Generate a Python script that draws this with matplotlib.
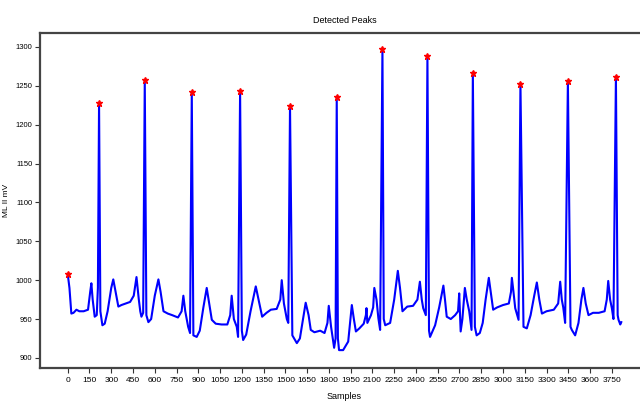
import matplotlib
matplotlib.use("Agg")
import matplotlib.pyplot as plt

plt.rcParams['font.family'] = ['DejaVu Sans Condensed', 'Liberation Sans Narrow', 'Liberation Sans', 'DejaVu Sans']

# --- ECG trace (MLII), vertices ---
samples = [
    0, 12, 25, 40, 60, 80, 110, 140, 155, 163, 172, 186, 200, 208, 216, 225, 239, 255,
    275, 300, 314, 330, 349, 370, 400, 430, 455, 474, 490, 500, 508, 520, 531, 542,
    556, 575, 600, 625, 640, 660, 690, 720, 760, 785, 797, 810, 830, 843, 855, 866,
    889, 910, 935, 958, 975, 993, 1020, 1060, 1100, 1120, 1130, 1145, 1165, 1174, 1188,
    1200, 1209, 1230, 1260, 1296, 1315, 1340, 1370, 1400, 1440, 1465, 1475, 1490, 1510,
    1520, 1532, 1548, 1579, 1600, 1640, 1660, 1675, 1700, 1740, 1770, 1790, 1799, 1815,
    1836, 1846, 1854, 1862, 1870, 1898, 1933, 1958, 1972, 1986, 2010, 2040, 2055, 2059,
    2065, 2090, 2105, 2113, 2128, 2141, 2153, 2169, 2178, 2188, 2222, 2250, 2275, 2290,
    2307, 2340, 2380, 2410, 2427, 2440, 2450, 2468, 2479, 2490, 2497, 2532, 2560, 2589,
    2600, 2612, 2640, 2670, 2690, 2698, 2703, 2708, 2720, 2737, 2750, 2767, 2783, 2792,
    2806, 2818, 2840, 2860, 2880, 2902, 2915, 2932, 2960, 3000, 3040, 3055, 3061, 3072,
    3084, 3107, 3120, 3141, 3164, 3190, 3215, 3233, 3250, 3268, 3300, 3350, 3380, 3394,
    3405, 3415, 3428, 3447, 3465, 3474, 3497, 3520, 3540, 3554, 3570, 3589, 3620, 3660,
    3700, 3715, 3725, 3738, 3750, 3761, 3778, 3790, 3796, 3808, 3815,
]
mv = [
    1008, 990, 957, 958, 962, 960, 960, 962, 985, 996, 975, 953, 955, 990, 1228, 960, 942, 944,
    960, 990, 1001, 985, 966, 968, 970, 972, 980, 1004, 975, 960, 953, 958, 1257, 955,
    946, 950, 980, 1001, 985, 960, 957, 955, 952, 960, 980, 960, 940, 932, 1242, 929,
    927, 935, 965, 990, 970, 949, 944, 943, 943, 955, 980, 950, 940, 927, 1243,
    935, 923, 930, 960, 992, 975, 953, 958, 962, 963, 975, 1000, 970, 950,
    945, 1224, 929, 919, 925, 971, 955, 936, 933, 935, 932, 945, 967, 940,
    913, 925, 1236, 925, 910, 910, 921, 968, 950, 934, 938, 944, 955, 964,
    945, 955, 965, 990, 975, 951, 936, 1298, 950, 942, 945, 975, 1012, 990,
    960, 966, 967, 975, 998, 975, 964, 955, 1288, 935, 927, 942, 965, 993,
    975, 953, 950, 955, 960, 983, 960, 934, 950, 990, 975, 960, 936, 1267,
    940, 929, 932, 945, 975, 1003, 985, 962, 965, 968, 970, 985, 1003, 985,
    964, 949, 1253, 940, 938, 955, 980, 997, 975, 957, 960, 962, 970, 998,
    975, 965, 945, 1256, 940, 936, 929, 945, 975, 990, 970, 955, 958, 958,
    960, 975, 999, 975, 964, 950, 1262, 955, 949, 943, 946,
]

# detected R peaks
peak_idx = [0, 216, 531, 855, 1188, 1532, 1854, 2169, 2479, 2792, 3120, 3447, 3778]
peak_mv = [1008, 1228, 1257, 1242, 1243, 1224, 1236, 1298, 1288, 1267, 1253, 1256, 1262]

xticks = list(range(0, 3751, 150))
yticks = [900, 950, 1000, 1050, 1100, 1150, 1200, 1250, 1300]

fig = plt.figure(figsize=(6.4, 4.03), dpi=100)
ax = fig.add_axes([40 / 640, 35 / 403, 609 / 640, 335 / 403])

ax.plot(samples, mv, color="blue", linewidth=1.5)
ax.plot(peak_idx, peak_mv, "r*", markersize=5)

ax.set_xlim(-191, 4006)
ax.set_ylim(887, 1318)
ax.set_xticks(xticks)
ax.set_yticks(yticks)
ax.tick_params(labelsize=6, length=3.5, width=0.8, color="#333333", pad=3)
ax.tick_params(axis="y", labelsize=5.5, pad=2)

for s in ax.spines.values():
    s.set_linewidth(1.6)
    s.set_color("#444444")

ax.set_title("Detected Peaks", fontsize=6.5, pad=7)
ax.set_xlabel("Samples", fontsize=6.5, labelpad=6)
ax.set_ylabel("ML II mV", fontsize=6)
ax.yaxis.set_label_coords(-0.05, 0.5)

fig.savefig("out.png", dpi=100)
